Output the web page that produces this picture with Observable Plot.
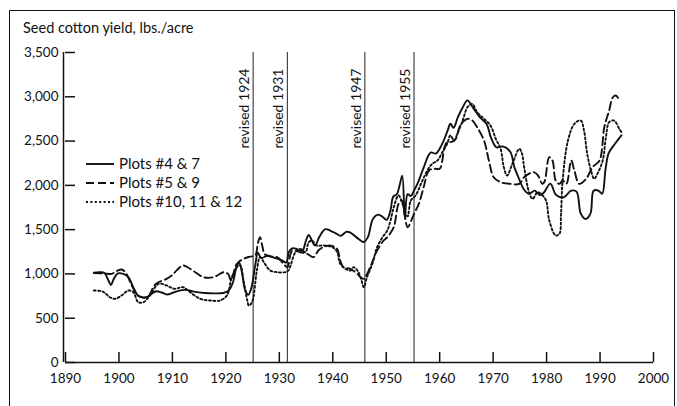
<!DOCTYPE html>
<html>
<head>
<meta charset="utf-8">
<script src="https://cdn.jsdelivr.net/npm/d3@7"></script>
<script src="https://cdn.jsdelivr.net/npm/@observablehq/plot@0.6"></script>
<style>
  body { margin: 0; background: #fff; }
  #wrap { position: relative; width: 677px; height: 406px; overflow: hidden; background: #fff; font-family: Lato, "Open Sans", sans-serif; color: #111; }
  #border { position: absolute; left: 9px; top: 10px; width: 666px; height: 420px; box-sizing: border-box; border: 1.5px solid #111; border-bottom: none; }
  #title { position: absolute; left: 23px; top: 19px; font-size: 14.5px; }
  #chart { position: absolute; left: 0; top: 0; }
  #legend { position: absolute; left: 85px; top: 154px; font-size: 15px; line-height: 19px; }
  #legend div { display: flex; align-items: center; height: 19px; }
  #legend svg { margin-right: 4px; }
</style>
</head>
<body>
<div id="wrap">
  <div id="border"></div>
  <div id="title">Seed cotton yield, lbs./acre</div>
  <div id="chart"></div>
  <div id="legend"></div>
</div>
<script>
// ---- data ----
const seriesNames = ["Plots #4 & 7", "Plots #5 & 9", "Plots #10, 11 & 12"];
const seriesDash = ["none", "8,4", "2,2.4"];

const s1Years = [1895.3,1896.5,1897.3,1898.0,1898.5,1899.0,1899.8,1900.8,1901.8,1902.6,1903.5,1904.5,1905.3,1906.2,1907.0,1908.0,1909.0,1910.2,1911.5,1912.5,1914.0,1916.0,1918.0,1919.5,1920.5,1921.3,1922.0,1922.5,1923.0,1923.6,1924.2,1924.8,1925.5,1926.0,1926.6,1927.8,1929.0,1930.3,1931.3,1931.8,1932.5,1933.3,1934.3,1935.0,1935.5,1936.0,1936.7,1937.5,1938.6,1939.5,1940.5,1941.5,1942.5,1943.2,1944.5,1945.8,1946.6,1947.5,1948.5,1949.4,1950.1,1950.8,1951.3,1952.0,1952.5,1953.0,1953.5,1954.0,1954.6,1955.2,1956.0,1957.0,1958.3,1959.3,1960.4,1961.5,1962.0,1962.6,1963.4,1964.3,1965.2,1966.2,1967.5,1968.8,1969.6,1970.6,1971.8,1973.2,1974.0,1974.8,1975.8,1976.7,1977.8,1978.7,1979.5,1980.7,1981.8,1983.2,1984.6,1985.6,1986.4,1987.3,1988.2,1988.8,1989.7,1990.4,1991.0,1991.6,1992.8,1994.0];
const s1Values = [1015,1020,1010,930,875,940,1005,1000,960,860,760,735,740,780,805,790,768,790,815,820,800,785,780,785,810,900,1080,1125,1020,820,765,850,1100,1240,1180,1205,1185,1160,1130,1250,1290,1280,1260,1380,1440,1390,1320,1420,1505,1490,1460,1430,1475,1470,1410,1360,1420,1620,1670,1640,1610,1720,1870,1900,2000,2110,1620,1900,1880,1940,2040,2200,2370,2360,2460,2620,2695,2650,2770,2880,2960,2880,2770,2690,2540,2430,2440,2380,2200,2080,1950,1905,1940,1890,1920,2020,1890,1865,1940,1930,1680,1620,1680,1940,1940,1905,2170,2360,2470,2565];

const s2Years = [1895.3,1897.3,1898.6,1899.5,1900.5,1901.3,1902.4,1903.5,1904.6,1905.5,1906.5,1907.2,1908.9,1910.0,1910.8,1912.0,1913.0,1914.0,1915.8,1917.7,1919.6,1920.4,1921.0,1922.0,1923.3,1924.5,1925.5,1926.0,1926.4,1926.8,1927.3,1928.5,1929.6,1930.8,1931.5,1932.4,1933.9,1935.2,1936.4,1937.3,1938.3,1939.6,1940.8,1941.4,1942.0,1943.3,1944.6,1945.2,1945.8,1947.0,1948.3,1949.5,1950.2,1951.4,1952.3,1952.9,1953.5,1954.0,1955.2,1956.1,1957.0,1958.0,1959.0,1960.0,1960.5,1960.9,1961.4,1962.2,1963.0,1963.7,1964.3,1965.2,1966.1,1967.0,1968.3,1969.2,1970.1,1971.4,1973.2,1974.9,1975.8,1977.6,1978.4,1979.2,1979.6,1980.5,1981.1,1981.7,1982.4,1983.0,1983.7,1984.6,1985.2,1986.1,1987.4,1988.6,1989.9,1990.8,1991.7,1992.4,1993.0,1993.6];
const s2Values = [1010,1005,1000,1030,1050,1010,870,760,730,745,860,900,945,990,1040,1095,1070,1030,963,963,1020,1000,926,1110,1170,1195,1210,1350,1414,1320,1220,1196,1189,1114,1076,1260,1245,1227,1189,1264,1305,1320,1283,1150,1076,1057,1000,963,945,1076,1264,1377,1414,1527,1790,1830,1650,1527,1679,1791,1979,2168,2187,2187,2281,2431,2487,2490,2525,2657,2713,2751,2732,2657,2506,2281,2092,2036,2017,2017,2092,2149,2111,2017,2040,2318,2281,2055,2017,2055,2017,2281,2168,2017,2074,2205,2281,2657,2845,2995,3014,2958];

const s3Years = [1895.3,1897.0,1898.3,1899.3,1900.5,1901.8,1902.7,1903.6,1904.6,1905.8,1907.4,1908.9,1910.4,1912.0,1913.3,1915.2,1917.1,1918.9,1920.2,1921.1,1922.1,1922.7,1923.3,1924.0,1924.3,1924.9,1925.8,1926.4,1927.3,1928.3,1929.6,1931.1,1931.7,1933.0,1933.9,1934.9,1935.5,1936.1,1937.0,1938.3,1940.0,1940.8,1941.4,1942.4,1943.3,1943.9,1944.6,1945.2,1945.8,1946.4,1947.4,1948.3,1949.3,1950.2,1950.8,1951.4,1952.3,1953.0,1953.6,1954.0,1954.6,1955.5,1956.5,1957.7,1958.6,1959.6,1960.5,1961.4,1962.0,1962.7,1963.3,1964.3,1965.2,1966.1,1967.0,1968.3,1969.5,1970.5,1971.4,1972.0,1972.6,1973.6,1974.9,1975.4,1975.8,1976.8,1977.4,1978.3,1979.0,1979.9,1980.5,1981.7,1982.4,1982.7,1983.0,1984.0,1985.2,1986.4,1987.0,1987.6,1988.3,1988.9,1989.5,1990.5,1991.1,1991.7,1992.6,1993.6,1994.0];
const s3Values = [813,800,737,719,757,813,794,681,681,757,888,870,832,850,794,719,700,700,757,963,1076,1095,926,700,643,681,1039,1189,1114,1039,1020,1020,1039,1245,1283,1245,1358,1377,1321,1321,1300,1250,1114,1057,1039,1076,1039,963,850,963,1114,1302,1414,1490,1603,1753,1886,1800,1679,1650,1829,1886,2017,2168,2243,2281,2374,2469,2563,2506,2582,2732,2882,2920,2826,2751,2676,2525,2412,2205,2111,2243,2412,2356,2205,1905,1848,1923,1900,1829,1603,1434,1453,1679,2055,2506,2695,2732,2619,2356,2168,2074,2130,2281,2544,2713,2732,2638,2600];

const revisionYears = [1925.1, 1931.5, 1946.0, 1955.2];
const revisionLabels = ["revised 1924", "revised 1931", "revised 1947", "revised 1955"];

const xTicks = [1890, 1900, 1910, 1920, 1930, 1940, 1950, 1960, 1970, 1980, 1990, 2000];
const yTicks = [0, 500, 1000, 1500, 2000, 2500, 3000, 3500];

// ---- build tables ----
const series = [
  {name: seriesNames[0], years: s1Years, values: s1Values, dash: seriesDash[0]},
  {name: seriesNames[1], years: s2Years, values: s2Values, dash: seriesDash[1]},
  {name: seriesNames[2], years: s3Years, values: s3Values, dash: seriesDash[2]}
];
const revisions = revisionYears.map((x, i) => ({x, label: revisionLabels[i]}));

const font = "Lato, 'Open Sans', sans-serif";
const lineMarks = series.map(s => Plot.line(
  s.years.map((y, i) => ({year: y, value: s.values[i]})),
  {x: "year", y: "value", curve: "catmull-rom", stroke: "#111", strokeWidth: 1.9,
   strokeDasharray: s.dash === "none" ? null : s.dash, strokeLinejoin: "round"}
));

const chart = Plot.plot({
  width: 677,
  height: 406,
  marginLeft: 65,
  marginRight: 24,
  marginTop: 52,
  marginBottom: 44,
  style: {fontFamily: font, fontSize: "13.5px", color: "#111", background: "transparent"},
  x: {domain: [1890, 2000], label: null},
  y: {domain: [0, 3500], label: null},
  marks: [
    Plot.ruleX(revisions, {x: "x", y1: 0, y2: 3500, stroke: "#222", strokeWidth: 1}),
    Plot.text(revisions, {x: "x", y: 3500, text: "label", rotate: -90, textAnchor: "end", lineAnchor: "bottom", dx: -4, dy: 16, fontSize: 14, fill: "#111"}),
    ...lineMarks,
    Plot.axisX({ticks: xTicks, tickFormat: d => String(d), tickSize: -10, tickPadding: 21, stroke: "#111", strokeWidth: 1.5, fontSize: 13.5}),
    Plot.axisY({ticks: yTicks, tickFormat: d3.format(","), tickSize: -10, tickPadding: 17, stroke: "#111", strokeWidth: 1.5, fontSize: 13.5}),
    Plot.ruleY([0], {stroke: "#111", strokeWidth: 1.5, dx: 0}),
    Plot.ruleX([1890], {stroke: "#111", strokeWidth: 1.5, dx: -2})
  ]
});
document.getElementById("chart").appendChild(chart);

// ---- legend ----
const legend = document.getElementById("legend");
series.forEach(s => {
  const row = document.createElement("div");
  row.innerHTML = `<svg width="30" height="6"><line x1="1" y1="3" x2="29" y2="3" stroke="#111" stroke-width="1.9" ${s.dash === "none" ? "" : `stroke-dasharray="${s.dash}"`}/></svg><span>${s.name.replace(/&/g, "&amp;")}</span>`;
  legend.appendChild(row);
});
</script>
</body>
</html>
